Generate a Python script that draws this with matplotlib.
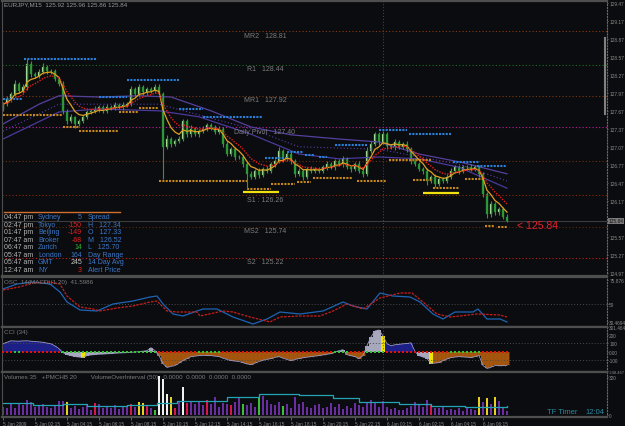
import matplotlib.pyplot as plt
import numpy as np
import pandas as pd

plt.rcParams['font.family'] = ['Liberation Sans', 'DejaVu Sans']
NARROW = ['Liberation Sans Narrow', 'Liberation Sans', 'DejaVu Sans']

W, H = 625, 427
BG = '#0b0c0f'

# ---------------- price data: EURJPY M15, 5 Jan 00:15 .. 6 Jan 07:45 ----------------
closes = [127.78, 127.87, 127.95, 128.12, 128.00, 128.07, 128.45, 128.28, 128.25, 128.32,
          128.40, 128.33, 128.33, 128.20, 128.12, 127.67, 127.50, 127.57, 127.45, 127.50,
          127.57, 127.65, 127.67, 127.70, 127.73, 127.67, 127.73, 127.72, 127.77, 127.73,
          127.77, 127.78, 128.03, 127.95, 128.07, 127.98, 128.03, 128.00, 128.07, 127.95,
          127.07, 127.20, 127.12, 127.17, 127.20, 127.50, 127.28, 127.37, 127.28, 127.33,
          127.37, 127.43, 127.40, 127.32, 127.37, 127.12, 126.95, 127.03, 126.90, 126.90,
          126.78, 126.62, 126.57, 126.67, 126.60, 126.70, 126.67, 126.78, 126.83, 127.00,
          126.87, 126.95, 126.83, 126.62, 126.67, 126.57, 126.70, 126.67, 126.70, 126.67,
          126.73, 126.78, 126.73, 126.83, 126.78, 126.87, 126.73, 126.70, 126.78, 126.67,
          126.62, 127.00, 127.12, 127.28, 127.15, 127.28, 127.08, 127.07, 127.15, 127.07,
          127.12, 127.03, 126.83, 126.78, 126.70, 126.67, 126.50, 126.57, 126.45, 126.53,
          126.50, 126.57, 126.67, 126.73, 126.67, 126.73, 126.73, 126.70, 126.73, 126.62,
          126.28, 125.95, 126.12, 125.98, 126.03, 125.90, 125.84]
first_open = 127.70
# wick lengths in pips
wick_up = [3, 5, 4, 6, 3, 4, 8, 5, 3, 4, 6, 3, 4, 3, 2, 4, 3, 5, 2, 4,
           3, 4, 3, 5, 4, 3, 5, 3, 4, 3, 4, 3, 6, 4, 5, 3, 4, 3, 5, 4,
           3, 6, 4, 3, 5, 4, 3, 6, 3, 4, 5, 3, 4, 3, 4, 3, 5, 3, 4, 3,
           4, 3, 5, 3, 4, 3, 5, 4, 3, 6, 4, 3, 5, 3, 4, 3, 4, 5, 3, 4,
           3, 5, 4, 3, 4, 5, 3, 4, 3, 5, 4, 6, 5, 4, 3, 5, 4, 3, 5, 4,
           3, 4, 3, 5, 4, 3, 4, 3, 5, 4, 3, 4, 5, 3, 4, 3, 4, 5, 3, 4,
           3, 4, 5, 3, 4, 3, 5]
wick_lo = [4, 3, 5, 3, 4, 3, 5, 4, 3, 4, 3, 5, 4, 3, 4, 6, 5, 3, 6, 4,
           3, 4, 3, 4, 5, 3, 4, 3, 4, 3, 5, 4, 3, 4, 3, 5, 4, 3, 4, 3,
           54, 4, 5, 3, 4, 3, 5, 4, 3, 4, 3, 4, 5, 3, 4, 5, 3, 4, 5, 3,
           4, 25, 4, 3, 5, 3, 4, 3, 4, 3, 5, 3, 4, 6, 3, 5, 3, 4, 3, 4,
           3, 4, 3, 5, 3, 4, 3, 5, 4, 3, 5, 4, 3, 4, 5, 3, 4, 3, 5, 4,
           3, 4, 5, 3, 4, 5, 6, 4, 5, 3, 4, 3, 4, 3, 5, 3, 4, 3, 4, 5,
           4, 6, 5, 4, 5, 4, 3]

# slow moving averages (bar index, price)
ma_a_x = [0, 9, 14, 24, 34, 42, 52, 62, 72, 84, 94, 104, 114, 126]
ma_a = [127.45, 127.78, 127.92, 127.90, 127.92, 127.90, 127.67, 127.40, 127.27, 127.20,
        127.15, 126.95, 126.82, 126.62]
ma_b_x = [0, 14, 24, 39, 49, 62, 74, 84, 94, 104, 114, 126]
ma_b = [127.20, 127.65, 127.70, 127.67, 127.57, 127.28, 126.95, 126.87, 126.90, 126.87,
        126.73, 126.38]
ma_c_x = [0, 14, 39, 62, 74, 94, 114, 126]
ma_c = [127.33, 127.78, 127.78, 127.37, 127.07, 127.03, 126.78, 126.50]

# pivot levels (drawn position) and their captions
levels = [129.00, 128.44, 127.92, 127.40, 126.83, 126.26, 125.74, 125.22]
level_names = ['MR2   128.81', 'R1   128.44', 'MR1   127.92', 'Daily Pivot   127.40', '',
               'S1 : 126.26', 'MS2   125.74', 'S2   125.22']
level_colors = ['#8a3c12', '#1f6e24', '#7a3a12', '#c0209a', '#6a3010', '#8a2c10',
                '#5a2a10', '#c01c1c']

# session highs (blue) and lows (orange): price, first bar, last bar
hi_lvl = [128.53, 127.87, 127.90, 128.18, 127.70, 127.57, 126.88, 126.98, 126.93, 126.90,
          127.10, 127.35, 127.28, 126.82, 126.75]
hi_x0 = [5.3, 0, 24, 31, 44, 50, 65.5, 71, 75.5, 79, 83, 94, 101.5, 112.5, 118.5]
hi_x1 = [23.5, 4.8, 31, 44, 50, 65, 71, 75, 78, 81, 91, 101, 112, 119, 126]
lo_lvl = [127.60, 127.40, 127.33, 127.65, 127.72, 126.50, 126.37, 126.45, 126.48, 126.55,
          126.50, 126.85, 126.52, 126.38, 126.53, 125.75, 125.73]
lo_x0 = [0, 15, 19, 29, 34, 39, 61, 67, 73.5, 77.5, 88.5, 96.5, 102.5, 107.5, 115.5, 120.5, 123.8]
lo_x1 = [15, 19, 29, 34, 39, 61, 67, 73, 77, 87.5, 96, 107, 107.5, 114, 120, 123, 126]
ylw_lvl = [126.32, 126.30]
ylw_x0 = [60, 105]
ylw_x1 = [69, 114]

# OSC lines
osc_red_x = [0, 4, 7.5, 11.75, 14.25, 16, 19.25, 22.5, 24.25, 28.5, 32.5, 36.75, 38.5, 41,
             43.5, 48.5, 49.25, 55, 57.5, 61.75, 66.75, 69.25, 74.25, 79.25, 82.5, 86, 90,
             94.25, 99.25, 102.25, 105, 108.5, 111.75, 114.25, 118.5, 124.25, 126]
osc_red = [65.4, 68.7, 73.1, 74.2, 72.0, 58.8, 46.7, 44.5, 42.3, 45.6, 47.8, 52.2, 53.3, 42.3,
           41.2, 41.2, 36.8, 42.3, 41.2, 35.7, 30.2, 35.7, 36.8, 36.8, 42.3, 50.0, 44.5,
           56.6, 62.1, 62.1, 52.2, 39.0, 35.7, 36.8, 39.0, 37.9, 35.7]
osc_blue_x = [0, 3.5, 7.5, 11.75, 14.25, 16, 19.25, 23.5, 27.5, 32.5, 36.75, 38.5, 40, 42.5,
              45, 48.5, 50, 53.5, 57.5, 62.5, 66, 69.25, 74.25, 80, 85, 87.5, 91, 94.25, 97.5,
              101.75, 104.25, 107.5, 110, 113, 117.5, 118.75, 121, 124.25, 126]
osc_blue = [66.5, 72.0, 74.2, 72.0, 63.2, 52.2, 43.4, 42.3, 50.0, 53.3, 57.7, 58.8, 50.0, 39.0,
            36.8, 42.3, 44.5, 44.5, 35.7, 28.0, 33.5, 41.2, 39.0, 42.3, 52.2, 47.8, 44.5, 62.1,
            58.8, 57.7, 52.2, 39.0, 33.5, 41.2, 41.2, 44.5, 33.5, 33.5, 30.2]

# CCI(34)
cci = [96, 115, 133, 130, 128, 132, 133, 128, 124, 120,
       115, 105, 96, 70, 36, -12, -36, -48, -60, -66,
       -72, -48, -40, -36, -32, -30, -26, -24, -20, -16,
       -14, -12, -8, -4, 0, 6, 12, 48, 12, -48,
       -145, -193, -180, -169, -140, -108, -85, -60, -55, -48,
       -45, -48, -48, -55, -60, -80, -95, -108, -115, -120,
       -135, -150, -157, -140, -120, -105, -95, -84, -70, -60,
       -80, -95, -108, -95, -84, -75, -68, -60, -55, -48,
       -40, -32, -24, -5, 12, 24, -36, -50, -60, -84,
       -48, 72, 180, 253, 265, 193, 96, 72, 85, 90,
       96, 100, 108, 0, -48, -66, -84, -145, -140, -133,
       -110, -90, -72, -66, -60, -64, -68, -72, -60, -48,
       -169, -205, -190, -169, -172, -170, -169]
cci_col = ('b' * 15 + 'g' * 5 + 'y' + 'g' * 18 + 'o' * 45 + 'g' * 2 + 'o' * 5 + 'g' * 4 + 'y'
           + 'b' * 7 + 'g' * 4 + 'y' + 'o' * 19)
cci_sq = ('r' * 3 + 'g' * 2 + 'r' * 10 + 'g' * 24 + 'r' * 10 + 'g' * 6 + 'r' * 28 + 'g' * 4
          + 'r' * 4 + 'g' * 5 + 'r' * 16 + 'g' * 8 + 'r' * 7)

# volumes
volumes = [70, 55, 90, 60, 100, 80, 125, 110, 65, 75,
           95, 70, 60, 85, 115, 120, 110, 60, 75, 50,
           65, 80, 45, 100, 90, 55, 70, 60, 85, 50,
           75, 65, 90, 70, 110, 105, 80, 60, 45, 330,
           300, 180, 150, 60, 120, 235, 100, 120, 95, 110,
           80, 130, 95, 150, 70, 100, 90, 80, 110, 140,
           95, 80, 100, 70, 150, 160, 130, 90, 80, 110,
           75, 95, 60, 150, 90, 110, 70, 60, 80, 95,
           55, 70, 100, 65, 90, 50, 75, 60, 100, 85,
           70, 110, 130, 100, 65, 120, 70, 50, 60, 45,
           40, 55, 75, 110, 90, 65, 130, 85, 60, 55,
           70, 45, 50, 40, 55, 35, 60, 50, 45, 150,
           110, 140, 90, 155, 120, 60, 30]
vol_col = list('p' * 127)
for i in [16, 34, 35, 42, 119, 121, 123]:
    vol_col[i] = 'y'
for i in [23, 32, 36, 43, 46, 51, 57, 107]:
    vol_col[i] = 'r'
for i in [38, 60, 64, 70]:
    vol_col[i] = 'g'
for i in [39, 40, 41, 45]:
    vol_col[i] = 'w'
vol_avg_x = [0, 7.5, 15, 21, 31, 38.5, 43.5, 56, 64, 74, 82.5, 89, 99, 107, 115.5, 126]
vol_avg = [101, 84, 92, 76, 84, 101, 118, 151, 176, 168, 143, 109, 92, 76, 67, 76]

time_labels = ['5 Jan 2009', '5 Jan 02:15', '5 Jan 04:15', '5 Jan 06:15', '5 Jan 08:15',
               '5 Jan 10:15', '5 Jan 12:15', '5 Jan 14:15', '5 Jan 16:15', '5 Jan 18:15',
               '5 Jan 20:15', '5 Jan 22:15', '6 Jan 00:15', '6 Jan 02:15', '6 Jan 04:15',
               '6 Jan 06:15']

sessions = [('04:47 pm', 'Sydney', '5', '#3a78c8', 'Spread'),
            ('02:47 pm', 'Tokyo', '-150', '#e02020', 'H   127.34'),
            ('01:47 pm', 'Beijing', '-149', '#e02020', 'O   127.33'),
            ('07:47 am', 'Broker', '-68', '#e02020', 'M   126.52'),
            ('06:47 am', 'Zurich', '14', '#30b030', 'L   125.70'),
            ('05:47 am', 'London', '164', '#3a78c8', 'Day Range'),
            ('05:47 am', 'GMT', '245', '#c8c8c8', '14 Day Avg'),
            ('12:47 am', 'NY', '3', '#e02020', 'Alert Price')]

# ---------------- figure ----------------
fig = plt.figure(figsize=(W / 100, H / 100), dpi=100, facecolor=BG)
TICK_FS = 3.4


def panel(top, bottom):
    ax = fig.add_axes([2 / W, 1 - bottom / H, 605 / W, (bottom - top) / H], facecolor=BG)
    ax.set_xlim(-0.25, 151)
    for s in ['top', 'bottom']:
        ax.spines[s].set_color('#4e4e4e')
        ax.spines[s].set_linewidth(1.6)
    ax.spines['left'].set_color('#4e4e4e')
    ax.spines['right'].set_color('#6a6a6a')
    ax.spines['right'].set_linestyle(':')
    ax.yaxis.tick_right()
    ax.tick_params(axis='y', colors='#8c8c8c', labelsize=TICK_FS, length=1, pad=0.6, width=0.5)
    ax.set_xticks([])
    ax.axvline(95, color='#4a4a4a', ls=(0, (1, 2)), lw=0.7)
    return ax


def set_ylabels(ax, vals, labels):
    ax.set_yticks(vals)
    ax.set_yticklabels(labels, family=NARROW)


def ftext(x, y, s, **kw):
    kw.setdefault('fontsize', 5)
    kw.setdefault('va', 'center')
    fig.text(x / W, 1 - y / H, s, **kw)


x = np.arange(len(closes))
c = np.array(closes)
o = np.r_[first_open, c[:-1]]
hi = np.maximum(o, c) + np.array(wick_up) / 100
lo = np.minimum(o, c) - np.array(wick_lo) / 100

# main chart
ax = panel(2, 277)
ax.set_ylim(124.917, 129.50)
yt = [129.47, 129.17, 128.87, 128.57, 128.27, 127.97, 127.67, 127.37, 127.07, 126.77,
      126.47, 126.17, 125.57, 125.27, 124.97]
set_ylabels(ax, yt, [f'{v:.2f}' for v in yt])

for lv, col in zip(levels, level_colors):
    ax.axhline(lv, color=col, ls=(0, (1, 2)), lw=0.8)
ax.axhline(c[-1], color='#3c3c3c', lw=0.8)
for lv, name in zip(levels, level_names):
    if name:
        ax.text(65.5, lv - 0.067, name, color='#7c7c7c', fontsize=5, ha='center', va='center')

ax.plot(ma_b_x, ma_b, color='#4a3a9c', lw=0.9)
ax.plot(ma_c_x, ma_c, color='#5a3cb0', lw=0.8, ls=(0, (1, 2)))
ax.plot(ma_a_x, ma_a, color='#56409e', lw=0.9)

ax.hlines(hi_lvl, hi_x0, hi_x1, color='#2a80d8', lw=1.5, ls=(0, (1, 0.6)))
ax.hlines(lo_lvl, lo_x0, lo_x1, color='#c4861e', lw=1.5, ls=(0, (1, 0.6)))
ax.hlines(ylw_lvl, ylw_x0, ylw_x1, color='#f0e010', lw=1.6)

up = c >= o
ax.vlines(x, lo, hi, color='#2f9a3a', lw=0.8)
ax.bar(x[up], np.maximum(c - o, 0.008)[up], bottom=o[up], width=0.66, color='#c4eab0',
       edgecolor='#3aa040', lw=0.3)
ax.bar(x[~up], (o - c)[~up], bottom=c[~up], width=0.66, color='#2f9a3a',
       edgecolor='#1f7a2a', lw=0.3)

s = pd.Series(closes)
ax.plot(x, s.ewm(span=5, adjust=False).mean(), color='#e0a020', lw=0.9)
ax.plot(x, s.ewm(span=9, adjust=False).mean(), color='#e41c1c', lw=1.0, ls=(0, (1, 1)))

ax.text(len(closes) + 1.5, c[-1] - 0.07, f'< {c[-1]:.2f}', color='#e8202a', fontsize=7.5,
        va='center', ha='left')
ax.text(1.0025, c[-1], f'{c[-1]:.2f}', transform=ax.get_yaxis_transform(), fontsize=TICK_FS,
        family=NARROW, color='#111111', va='center', ha='left',
        bbox=dict(boxstyle='square,pad=0.12', fc='#7a7a7a', ec='none'))
ax.plot([0.997, 0.997], [0.59, 0.865], transform=ax.transAxes, color='#808080', lw=1.5)

# info table
ftext(4, 5, f'EURJPY,M15  125.92 125.96 125.86 {c[-1]:.2f}', color='#9a9a9a', fontsize=4.5)
fig.add_artist(plt.Line2D([4 / W, 120 / W], [1 - 213 / H, 1 - 213 / H], color='#d07030', lw=1))
for k, (t, city, n, ncol, right) in enumerate(sessions):
    yy = 218 + 7.5 * k
    ftext(4, yy, t, color='#b4b4b4')
    ftext(38, yy, city, color='#3a78c8')
    ftext(82, yy, n, color=ncol, ha='right')
    ftext(88, yy, right, color='#3a78c8')

# OSC panel
ax2 = panel(278, 328)
ax2.set_ylim(24.7, 79.7)
set_ylabels(ax2, [75.876, 50, 30.4694], ['75.876', '50', '30.4694'])
ax2.axhline(50, color='#4a4a4a', ls=(0, (1, 2)), lw=0.7)
ax2.plot(osc_blue_x, osc_blue, color='#1e64b4', lw=0.9)
ax2.plot(osc_red_x, osc_red, color='#c81e1e', lw=0.9, ls=(0, (2, 1)))
ftext(4, 283, 'OSC  14(MACD)(1,20)  41.5986', color='#7c7c7c', fontsize=4.5)

# CCI panel
ax3 = panel(328, 373)
ax3.set_ylim(-248.5, 301.5)
set_ylabels(ax3, [301.464, 200, 100, 0, -100, -240],
            ['301.464', '200', '100', '0.00', '-100', '-248.467'])
for lab in ax3.get_yticklabels()[-1:]:
    lab.set_fontsize(3.0)
ax3.axhline(100, color='#4a4a4a', ls=(0, (1, 2)), lw=0.7)
ax3.axhline(-100, color='#4a4a4a', ls=(0, (1, 2)), lw=0.7)
cmap = {'b': '#1c1f86', 'g': '#a8a8bc', 'y': '#f2e200', 'o': '#a4560f'}
cv = np.array(cci)
ax3.bar(x, cv, width=0.9, color=[cmap[k] for k in cci_col], lw=0)
orange = np.array([k == 'o' for k in cci_col])
ax3.vlines(x[orange] + 0.5, 0, cv[orange], color='#d82a1a', lw=0.7, ls=(0, (1, 1)))
ax3.plot(x, cv, color='#9a9ac4', lw=0.6)
ax3.scatter(x, np.zeros(len(x)), marker='s', s=2.5, lw=0,
            c=['#e41010' if k == 'r' else '#34c634' for k in cci_sq], zorder=5)
ftext(4, 333, 'CCI (34)', color='#7c7c7c', fontsize=4.5)

# volume panel
ax4 = panel(373, 418)
ax4.set_ylim(-17, 362)
set_ylabels(ax4, [320, 0], ['320', '0'])
vmap = {'p': '#6a2e9e', 'y': '#e8d020', 'r': '#d8184c', 'g': '#38c038', 'w': '#f0f0f0'}
ax4.bar(x, volumes, width=0.62, color=[vmap[k] for k in vol_col], lw=0)
ax4.plot(vol_avg_x, vol_avg, color='#22a4b4', lw=0.9, drawstyle='steps-post')
ax4.set_xticks(np.arange(0, 121, 8))
ax4.set_xticklabels(time_labels, ha='left', family=NARROW)
ax4.tick_params(axis='x', colors='#8c8c8c', labelsize=TICK_FS, length=2, pad=1, width=0.5)
ftext(4, 378, 'Volumes 35   +PMCHB 20        VolumeOverInterval (50)   0.0000  0.0000  0.0000  0.0000',
      color='#7c7c7c', fontsize=4.5)
ftext(547, 413, 'TF Timer', color='#2a8aa0', fontsize=5.5)
ftext(585, 413, '12:04', color='#2a8aa0', fontsize=5.5)

fig.savefig('out.png', dpi=100, facecolor=BG)
